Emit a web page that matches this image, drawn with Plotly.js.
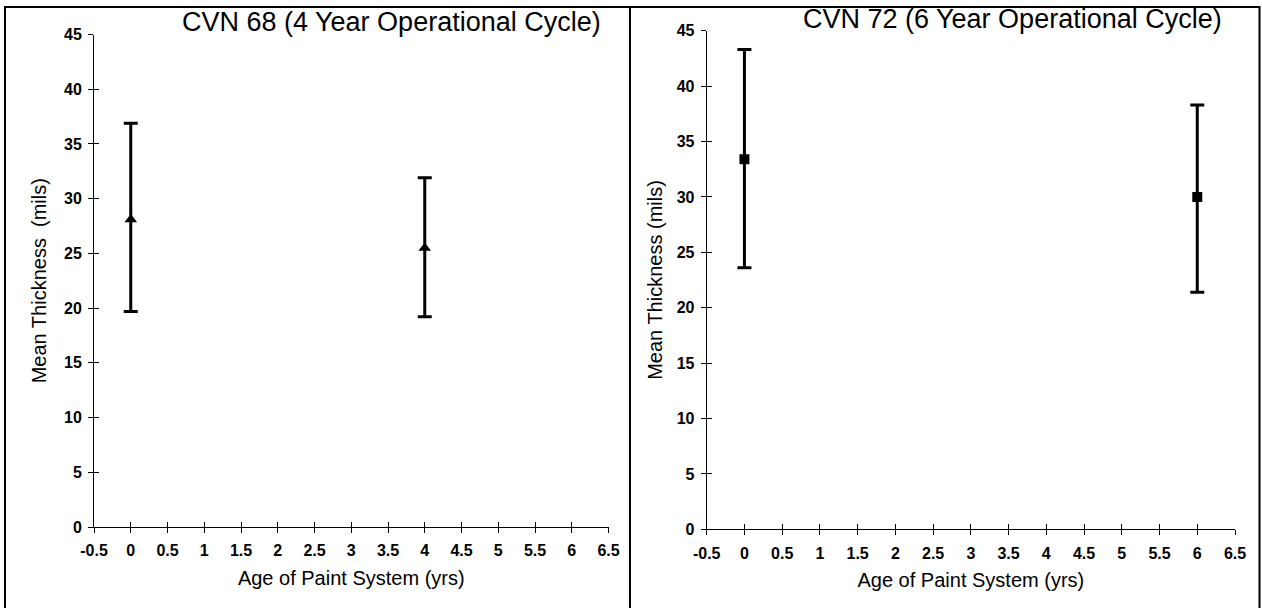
<!DOCTYPE html>
<html>
<head>
<meta charset="utf-8">
<script src="https://cdn.plot.ly/plotly-3.0.1.min.js"></script>
<style>
  html, body { margin: 0; padding: 0; background: #ffffff; }
  #chart { width: 1262px; height: 608px; }
</style>
</head>
<body>
<div id="chart"></div>
<script>
// Paint thickness survey: mean dry film thickness with min/max range
// CVN 68 (4 year operational cycle)
const ageCvn68 = [0, 4];
const meanCvn68 = [28.1, 25.5];
const highCvn68 = [36.9, 31.9];
const lowCvn68 = [19.7, 19.2];

// CVN 72 (6 year operational cycle)
const ageCvn72 = [0, 6];
const meanCvn72 = [33.4, 30.0];
const highCvn72 = [43.3, 38.3];
const lowCvn72 = [23.6, 21.4];

// Axis ticks shared by both panels
const xTickVals = [-0.5, 0, 0.5, 1, 1.5, 2, 2.5, 3, 3.5, 4, 4.5, 5, 5.5, 6, 6.5];
const yTickVals = [0, 5, 10, 15, 20, 25, 30, 35, 40, 45];

const W = 1262, H = 608;
const px = v => v / W;
const py = v => 1 - v / H;

const FONT = 'Liberation Sans, Arial, Helvetica, sans-serif';
const INK = '#000000';

function rangeTrace(x, mean, hi, lo, xa, ya, symbol, size) {
  return {
    type: 'scatter',
    mode: 'markers',
    x: x,
    y: mean,
    xaxis: xa,
    yaxis: ya,
    marker: { symbol: symbol, size: size, color: INK, line: { width: 0 } },
    error_y: {
      type: 'data',
      symmetric: false,
      array: hi.map((h, i) => h - mean[i]),
      arrayminus: lo.map((l, i) => mean[i] - l),
      color: INK,
      thickness: 3,
      width: 7
    },
    hoverinfo: 'skip',
    showlegend: false
  };
}

// empty traces that bring the crossing-tick overlay axes to life
function blank(xa, ya) {
  return { type: 'scatter', mode: 'markers', x: [], y: [], xaxis: xa, yaxis: ya,
           hoverinfo: 'skip', showlegend: false };
}

const traces = [
  rangeTrace(ageCvn68, meanCvn68, highCvn68, lowCvn68, 'x', 'y', 'triangle-up', 11),
  rangeTrace(ageCvn72, meanCvn72, highCvn72, lowCvn72, 'x2', 'y2', 'square', 10),
  blank('x3', 'y3'),
  blank('x4', 'y4')
];

const tickFont = { family: FONT, size: 16, color: INK, weight: 'bold' };
const titleFont = { family: FONT, size: 20, color: INK };

function xMain(domain, anchor) {
  return {
    domain: domain, anchor: anchor, range: [-0.5, 6.5], autorange: false,
    tickmode: 'array', tickvals: xTickVals, ticktext: xTickVals.map(String),
    ticks: 'outside', ticklen: 5, tickwidth: 1, tickcolor: INK,
    showline: true, linecolor: INK, linewidth: 1,
    showgrid: false, zeroline: false, tickfont: tickFont,
    ticklabelstandoff: 4,
    title: { text: 'Age of Paint System (yrs)', font: titleFont, standoff: 12 },
    fixedrange: true
  };
}
function yMain(domain, anchor, title, standoff) {
  return {
    domain: domain, anchor: anchor, range: [0, 45], autorange: false,
    tickmode: 'array', tickvals: yTickVals, ticktext: yTickVals.map(String),
    ticks: 'outside', ticklen: 5, tickwidth: 1, tickcolor: INK,
    showline: true, linecolor: INK, linewidth: 1,
    showgrid: false, zeroline: false, tickfont: tickFont,
    ticklabelstandoff: 3,
    title: { text: title, font: titleFont, standoff: standoff },
    fixedrange: true
  };
}
function xCross(over, anchor) {
  return {
    overlaying: over, anchor: anchor, range: [-0.5, 6.5], autorange: false,
    tickmode: 'array', tickvals: xTickVals, ticks: 'inside', ticklen: 5,
    tickwidth: 1, tickcolor: INK, showticklabels: false, showline: false,
    showgrid: false, zeroline: false, fixedrange: true
  };
}
function yCross(over, anchor) {
  return {
    overlaying: over, anchor: anchor, range: [0, 45], autorange: false,
    tickmode: 'array', tickvals: yTickVals, ticks: 'inside', ticklen: 5,
    tickwidth: 1, tickcolor: INK, showticklabels: false, showline: false,
    showgrid: false, zeroline: false, fixedrange: true
  };
}

const layout = {
  width: W, height: H,
  margin: { l: 0, r: 0, t: 0, b: 0 },
  paper_bgcolor: '#ffffff', plot_bgcolor: 'rgba(0,0,0,0)',
  showlegend: false, hovermode: false,
  font: { family: FONT, color: INK },
  xaxis: xMain([px(94), px(608.5)], 'y'),
  yaxis: yMain([py(527), py(34.5)], 'x', 'Mean Thickness\u00a0\u00a0(mils)', 12),
  xaxis2: xMain([px(706.7), px(1235)], 'y2'),
  yaxis2: yMain([py(529.3), py(30.7)], 'x2', 'Mean Thickness (mils)', 8),
  xaxis3: xCross('x', 'y'),
  yaxis3: yCross('y', 'x'),
  xaxis4: xCross('x2', 'y2'),
  yaxis4: yCross('y2', 'x2'),
  annotations: [
    { text: 'CVN 68 (4 Year Operational Cycle)', xref: 'paper', yref: 'paper',
      x: px(391), y: py(22), xanchor: 'center', yanchor: 'middle', showarrow: false,
      font: { family: FONT, size: 27, color: INK } },
    { text: 'CVN 72 (6 Year Operational Cycle)', xref: 'paper', yref: 'paper',
      x: px(1012), y: py(19), xanchor: 'center', yanchor: 'middle', showarrow: false,
      font: { family: FONT, size: 27, color: INK } }
  ],
  shapes: [
    // frame around both panels
    { type: 'rect', xref: 'paper', yref: 'paper', x0: px(5), x1: px(1259.5), y0: py(612), y1: py(7),
      line: { color: INK, width: 2 }, fillcolor: 'rgba(0,0,0,0)' },
    { type: 'line', xref: 'paper', yref: 'paper', x0: px(630), x1: px(630), y0: py(612), y1: py(7),
      line: { color: INK, width: 2 } }
  ]
};

Plotly.newPlot('chart', traces, layout, { displayModeBar: false, staticPlot: true });
</script>
</body>
</html>
